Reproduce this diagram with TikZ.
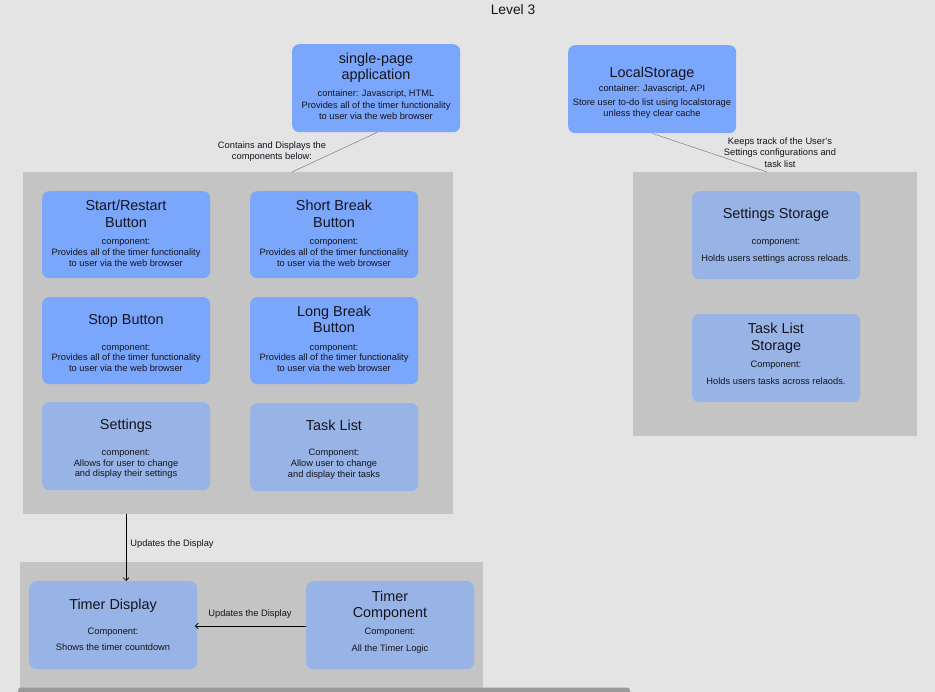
\documentclass[tikz,border=0pt]{standalone}
\usepackage{fontspec}
\setmainfont{Liberation Sans}
\usetikzlibrary{arrows.meta}
\definecolor{bg}{HTML}{E4E4E4}
\definecolor{grp}{HTML}{C4C4C4}
\definecolor{blueA}{HTML}{7AA6FC}
\definecolor{blueB}{HTML}{98B4E6}
\definecolor{txt}{HTML}{14141C}
\definecolor{lnk}{HTML}{8C8C8C}
\definecolor{scroll}{HTML}{9A9A9A}
\tikzset{
  grpbox/.style={fill=grp, draw=none},
  boxA/.style={fill=blueA, draw=none, rounded corners=7pt, anchor=north west, inner sep=0pt},
  boxB/.style={fill=blueB, draw=none, rounded corners=7pt, anchor=north west, inner sep=0pt},
  ttlfont/.style={font=\fontsize{14.4}{16}\selectfont, text=txt, anchor=base, inner sep=0pt},
  smlfont/.style={font=\fontsize{9.3}{11}\selectfont, text=txt, anchor=base, inner sep=0pt},
  link/.style={draw=lnk, line width=0.6pt},
  arr/.style={draw=black, line width=0.7pt, -{Straight Barb[length=3pt,width=6pt]}},
}
\newcounter{lblc}
\newcommand\ttlline[3]{\stepcounter{lblc}\node[ttlfont] (tl\arabic{lblc}) at (#1,#2+5.2) {#3};}
\newcommand\smlline[3]{\stepcounter{lblc}\node[smlfont] (sl\arabic{lblc}) at (#1,#2+3.4) {#3};}
\begin{document}
\begin{tikzpicture}[x=1pt,y=-1pt]
\fill[bg] (0,0) rectangle (935,692);
\useasboundingbox (0,0) rectangle (935,692);
% title
\stepcounter{lblc}\node[ttlfont, font=\fontsize{13.8}{16}\selectfont] (title) at (513,15) {Level 3};
% groups
\fill[grpbox] (23,172) rectangle (453,514);
\fill[grpbox] (633,172) rectangle (917,436);
\fill[grpbox] (20,562) rectangle (483,700);
\coordinate (lgtop) at (292,172);
\coordinate (rgtop) at (767,172);
\coordinate (lgbot) at (126,514);
% containers
\node[boxA, minimum width=168pt, minimum height=88pt] (spa) at (292,44) {};
\node[boxA, minimum width=168pt, minimum height=88pt] (ls) at (568,45) {};
% components left
\node[boxA, minimum width=168pt, minimum height=87pt] (start) at (42,191) {};
\node[boxA, minimum width=168pt, minimum height=87pt] (short) at (250,191) {};
\node[boxA, minimum width=168pt, minimum height=87pt] (stop) at (42,297) {};
\node[boxA, minimum width=168pt, minimum height=87pt] (long) at (250,297) {};
\node[boxB, minimum width=168pt, minimum height=88pt] (sett) at (42,402) {};
\node[boxB, minimum width=168pt, minimum height=88pt] (task) at (250,403) {};
% right
\node[boxB, minimum width=168pt, minimum height=88pt] (sstore) at (692,191) {};
\node[boxB, minimum width=168pt, minimum height=88pt] (tstore) at (692,314) {};
% bottom
\node[boxB, minimum width=168pt, minimum height=88pt] (tdisp) at (29,581) {};
\node[boxB, minimum width=168pt, minimum height=88pt] (tcomp) at (306,581) {};
% connectors
\draw[link] ([xshift=1pt]spa.south) -- (lgtop);
\draw[link] (ls.south) -- (rgtop);
\draw[arr] (lgbot) -- (tdisp.north -| lgbot);
\draw[arr] (tcomp.west |- 0,626) -- ([xshift=-2.5pt]tdisp.east |- 0,626);
% texts: SPA
\ttlline{376}{58}{single-page}
\ttlline{376}{74}{application}
\smlline{376}{93}{container: Javascript, HTML}
\smlline{376}{105}{Provides all of the timer functionality}
\smlline{376}{116}{to user via the web browser}
% LocalStorage
\ttlline{652}{72}{LocalStorage}
\smlline{652}{88}{container: Javascript, API}
\smlline{652}{102}{Store user to-do list using localstorage}
\smlline{652}{113}{unless they clear cache}
% link labels
\smlline{272}{145}{Contains and Displays the}
\smlline{272}{156}{components below:}
\smlline{780}{141}{Keeps track of the User’s}
\smlline{780}{152}{Settings configurations and}
\smlline{780}{164}{task list}
% Start/Restart
\ttlline{126}{205}{Start/Restart}
\ttlline{126}{222}{Button}
\smlline{126}{241}{component:}
\smlline{126}{252}{Provides all of the timer functionality}
\smlline{126}{263}{to user via the web browser}
% Short Break
\ttlline{334}{205}{Short Break}
\ttlline{334}{222}{Button}
\smlline{334}{241}{component:}
\smlline{334}{252}{Provides all of the timer functionality}
\smlline{334}{263}{to user via the web browser}
% Stop
\ttlline{126}{319}{Stop Button}
\smlline{126}{347}{component:}
\smlline{126}{357}{Provides all of the timer functionality}
\smlline{126}{368}{to user via the web browser}
% Long Break
\ttlline{334}{311}{Long Break}
\ttlline{334}{327}{Button}
\smlline{334}{347}{component:}
\smlline{334}{357}{Provides all of the timer functionality}
\smlline{334}{368}{to user via the web browser}
% Settings
\ttlline{126}{424}{Settings}
\smlline{126}{452}{component:}
\smlline{126}{463}{Allows for user to change}
\smlline{126}{473}{and display their settings}
% Task List
\ttlline{334}{425}{Task List}
\smlline{334}{452}{Component:}
\smlline{334}{463}{Allow user to change}
\smlline{334}{474}{and display their tasks}
% Settings Storage
\ttlline{776}{213}{Settings Storage}
\smlline{776}{241}{component:}
\smlline{776}{258}{Holds users settings across reloads.}
% Task List Storage
\ttlline{776}{328}{Task List}
\ttlline{776}{345}{Storage}
\smlline{776}{364}{Component:}
\smlline{776}{381}{Holds users tasks across relaods.}
% arrow labels
\smlline{172}{543}{Updates the Display}
\smlline{250}{613}{Updates the Display}
% Timer Display
\ttlline{113}{604}{Timer Display}
\smlline{113}{631}{Component:}
\smlline{113}{647}{Shows the timer countdown}
% Timer Component
\ttlline{390}{596}{Timer}
\ttlline{390}{612}{Component}
\smlline{390}{631}{Component:}
\smlline{390}{648}{All the Timer Logic}
% scrollbar
\fill[scroll, rounded corners=3pt] (18,687.5) rectangle (630,697);
\end{tikzpicture}
\end{document}
